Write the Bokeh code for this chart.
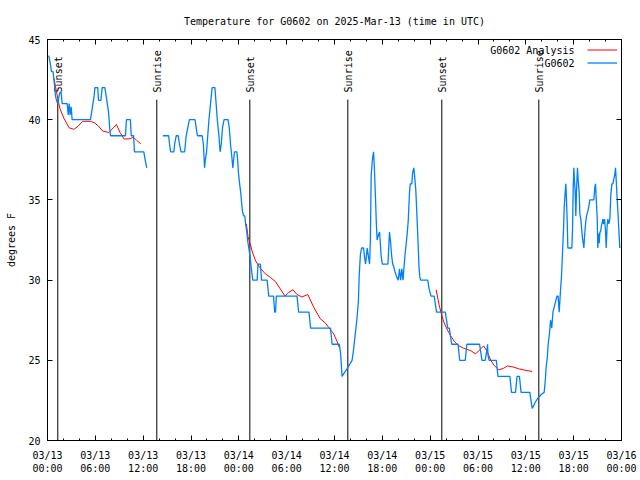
import math
import pandas as pd
from bokeh.plotting import figure
from bokeh.models import (Range1d, FixedTicker, DatetimeAxis, LinearAxis,
                          DatetimeTickFormatter, Legend, LegendItem, Label,
                          CustomJSTickFormatter)
from bokeh.embed import file_html
from bokeh.resources import INLINE
from bokeh.core.properties import value

NaN = float("nan")
START = pd.Timestamp("2025-03-13 00:00")
END = pd.Timestamp("2025-03-16 00:00")

TITLE = "Temperature for G0602 on 2025-Mar-13 (time in UTC)"
Y_LABEL = "degrees F"
OBS_NAME = "G0602"
ANA_NAME = "G0602 Analysis"

# observed temperature (hours after 03/13 00:00 UTC, deg F); NaN = gap
obs_hours = [
    0.15, 0.28, 0.38, 0.50, 0.70, 0.80, 0.92, 1.00, 1.13, 1.30, 1.42, 1.55, 1.71, 1.84,
    2.47, 2.60, 2.72, 2.84, 2.97, 3.09, 5.39, 5.55, 5.70, 5.85, 5.95, 6.30, 6.40, 6.70,
    6.85, 7.20, 7.35, 7.50, 7.65, 7.80, 7.90, 9.78, 9.90, 10.40, 10.50, 10.80, 10.90,
    12.08, 12.25, 12.45, NaN,
    14.47, 15.20, 15.30, 15.45, 15.85, 15.95, 16.15, 16.40, 16.55, 16.75, 17.20, 17.30,
    17.40, 17.60, 17.80, 18.50, 18.65, 18.80, 19.40, 19.55, 19.70, 19.80, 19.95, 20.10,
    20.25, 20.45, 20.65, 21.00, 21.15, 21.30, 21.50, 21.65, 21.80, 21.95, 22.15, 22.65,
    22.80, 22.95, 23.10, 23.25, 23.35, 23.45, 23.75, 23.85, 23.95, 24.10, 24.25, 24.35,
    24.45, 24.60, 24.75, 24.85, 25.00, 25.10, 25.25, 25.40, 25.55, 25.75, 26.30, 26.40,
    26.70, 26.85, 27.55, 27.75, 28.35, 28.50, 28.60, 28.70, 31.30, 31.50, 32.80, 33.00,
    35.50, 35.70, 36.60, 36.75, 36.95, 37.60, 38.20, 38.35, 38.55, 38.80, 39.00, 39.10,
    39.25, 39.40, 39.65, 39.75, 39.90, 40.00, 40.10, 40.25, 40.40, 40.50, 40.60, 40.75,
    40.90, 41.00, 41.15, 41.25, 41.35, 41.50, 41.65, 41.75, 41.85, 42.00, 42.70, 42.80,
    42.90, 43.05, 43.15, 43.30, 43.45, 43.60, 43.80, 44.00, 44.15, 44.30, 44.45, 44.60,
    44.70, 44.85, 45.00, 45.10, 45.25, 45.40, 45.50, 45.70, 45.80, 45.95, 46.05, 46.20,
    46.35, 46.50, 46.60, 46.70, 46.80, 47.70, 47.85, 48.10, 48.50, 48.65, 48.80, 49.90,
    50.05, 50.20, 50.40, 50.55, 50.70, 51.50, 51.60, 51.70, 52.40, 52.60, 54.20, 54.35,
    54.50, 54.90, 55.10, 55.20, 55.25, 55.40, 56.30, 56.40, 56.50, 58.00, 58.20, 58.70,
    58.90, 59.20, 59.40, 60.50, 60.65, 60.80, 61.20, 61.60, 62.00, 62.30, 62.45, 62.55,
    62.70, 62.80, 62.95, 63.10, 63.25, 63.40, 63.65, 63.90, 64.05, 64.18, 64.35, 64.48,
    64.60, 64.73, 64.81, 64.94, 65.02, 65.10, 65.19, 65.27, 65.77, 65.86, 65.94, 66.02,
    66.10, 66.19, 66.27, 66.36, 66.48, 66.57, 66.69, 66.78, 66.90, 66.98, 67.11, 67.23,
    67.28, 67.36, 67.49, 67.61, 67.78, 67.90, 68.03, 68.53, 68.66, 68.74, 68.82, 68.95,
    69.03, 69.12, 69.20, 69.29, 69.37, 69.49, 69.66, 69.74, 69.87, 69.99, 70.08, 70.20,
    70.29, 70.41, 70.54, 70.66, 70.79, 70.92, 71.04, 71.16, 71.25, 71.33, 71.46, 71.58,
    71.71, 71.79,
]
obs_temp = [
    44.0, 43.7, 43.4, 43.0, 43.0, 42.5, 42.0, 41.5, 41.2, 41.0, 41.4, 41.7, 41.7, 41.0,
    41.0, 40.3, 41.0, 40.3, 40.8, 40.0, 40.0, 40.5, 41.0, 41.5, 42.0, 42.0, 41.2, 41.2,
    42.0, 42.0, 41.5, 41.0, 40.5, 39.5, 39.0, 39.0, 40.0, 40.0, 39.0, 39.0, 38.0,
    38.0, 37.5, 37.0, NaN,
    39.0, 39.0, 38.5, 38.0, 38.0, 38.5, 39.0, 39.0, 38.5, 38.0, 38.0, 38.5,
    39.0, 39.5, 40.0, 40.0, 39.5, 39.0, 39.0, 38.5, 37.0, 37.5, 38.0, 39.0,
    40.0, 41.0, 42.0, 42.0, 41.0, 40.0, 39.0, 38.0, 38.5, 39.5, 40.0, 40.0,
    39.5, 38.5, 37.8, 37.0, 37.5, 38.0, 38.0, 37.5, 36.7, 36.0, 35.4, 34.8,
    34.3, 34.0, 34.0, 33.5, 33.0, 32.5, 32.0, 31.5, 30.8, 30.0, 30.0, 31.0,
    31.0, 30.0, 30.0, 29.0, 29.0, 28.0, 28.0, 29.0, 29.0, 28.0, 28.0, 27.0,
    27.0, 26.0, 26.0, 25.5, 24.0, 24.5, 25.0, 25.5, 26.4, 27.5, 28.7, 30.3,
    31.6, 32.0, 32.0, 31.5, 31.0, 31.5, 32.0, 31.5, 31.0, 32.5, 36.5, 37.5,
    38.0, 37.0, 35.0, 33.5, 32.5, 32.8, 33.0, 32.3, 31.5, 31.0, 31.0, 32.0,
    33.0, 32.3, 31.6, 31.0, 30.8, 30.5, 30.2, 30.0, 30.7, 30.0, 30.7, 30.0,
    30.7, 31.6, 32.3, 32.8, 33.7, 35.4, 36.0, 36.0, 36.7, 37.0, 36.5, 35.6,
    33.9, 32.1, 30.8, 30.2, 30.0, 30.0, 29.5, 29.0, 29.0, 28.5, 28.0, 28.0,
    27.5, 27.0, 27.0, 26.5, 26.0, 26.0, 25.5, 25.0, 25.0, 26.0, 26.0, 25.5,
    25.0, 25.0, 25.6, 26.0, 25.3, 25.0, 25.0, 24.5, 24.0, 24.0, 23.0, 23.0,
    24.0, 24.0, 23.0, 23.0, 22.5, 22.0, 22.4, 22.7, 22.9, 23.0, 23.8, 24.6,
    25.2, 26.0, 26.6, 27.5, 27.0, 28.0, 28.5, 29.0, 29.0, 28.0, 29.35, 30.3,
    31.7, 33.2, 34.5, 35.5, 36.0, 35.0, 33.7, 32.0, 32.0, 33.2, 35.7, 37.0,
    36.2, 35.5, 34.0, 35.6, 37.0, 36.2, 35.5, 34.1, 33.8, 33.3, 32.6, 32.2,
    32.0, 32.7, 33.5, 34.0, 34.3, 34.6, 35.0, 35.0, 35.8, 36.0, 35.2, 33.9,
    32.0, 32.9, 32.3, 33.0, 33.0, 33.4, 33.8, 33.5, 33.8, 33.1, 32.0, 33.4,
    33.8, 33.5, 33.8, 35.3, 36.0, 36.0, 36.3, 36.6, 37.0, 36.3, 35.0, 34.0,
    32.7, 32.0,
]

# analysis temperature (hours after 03/13 00:00 UTC, deg F); NaN = gap
ana_hours = [
    0.80, 1.30, 1.55, 2.05, 2.70, 3.30, 3.85, 4.40, 5.40, 5.90, 6.40, 6.90, 7.70, 8.65,
    9.10, 9.60, 10.20, 10.80, 11.20, 11.70, NaN,
    24.95, 25.15, 25.40, 25.70, 26.10, 26.60, 27.30, 28.00, 28.60, 29.20, 29.80, 30.30,
    30.80, 31.30, 31.90, 32.65, 33.40, 34.20, 34.90, 35.50, 35.90, 36.30, 36.60, NaN,
    48.75, 49.10, 49.40, 49.70, 50.10, 50.55, 51.00, 51.60, 52.20, 53.10, 53.70, 54.30,
    54.70, 55.20, 55.60, 56.00, 56.60, 57.20, 57.70, 58.50, 59.10, 59.75, 60.80,
]
ana_temp = [
    42.6, 41.3, 40.7, 40.1, 39.5, 39.4, 39.6, 39.9, 39.9, 39.8, 39.6, 39.3, 39.2, 39.7,
    39.2, 38.8, 38.8, 38.9, 38.7, 38.5, NaN,
    33.5, 32.7, 32.3, 31.75, 31.2, 30.8, 30.4, 30.15, 29.9, 29.45, 29.0, 29.25,
    29.4, 29.1, 28.95, 29.1, 28.3, 27.6, 27.3, 26.9, 26.65, 26.2, 25.8, NaN,
    29.4, 28.5, 27.9, 27.4, 26.95, 26.55, 26.2, 25.9, 25.75, 25.6, 25.4, 25.7,
    25.9, 25.5, 25.0, 24.7, 24.4, 24.5, 24.65, 24.57, 24.47, 24.4, 24.3,
]

# sunset / sunrise markers (hours after 03/13 00:00 UTC)
sun_hours = [1.29, 13.71, 25.38, 37.67, 49.46, 61.63]
sun_names = ["Sunset", "Sunrise", "Sunset", "Sunrise", "Sunset", "Sunrise"]

y_ticks = [20, 25, 30, 35, 40, 45]
Y_MIN, Y_MAX = 20, 45
MAJOR_STEP_H = 6
MINOR_STEP_H = 2

FONT = "DejaVu Sans Mono"
FS = "10px"
OBS_COLOR = "#0080ff"
ANA_COLOR = "#ff0000"

MS_H = 3600 * 1000.0
t0 = START.value / 1e6  # epoch ms
t1 = END.value / 1e6


def to_ms(hours):
    return [t0 + h * MS_H if not math.isnan(h) else NaN for h in hours]


total_h = int((t1 - t0) / MS_H)
major = [t0 + h * MS_H for h in range(0, total_h + 1, MAJOR_STEP_H)]
minor = [t0 + h * MS_H for h in range(0, total_h + 1, MINOR_STEP_H)]

p = figure(width=640, height=480, x_axis_type="datetime",
           output_backend="svg", toolbar_location=None,
           x_range=Range1d(t0, t1), y_range=Range1d(Y_MIN, Y_MAX),
           min_border_left=47, min_border_right=19,
           min_border_top=39, min_border_bottom=40)
p.background_fill_color = "white"
p.border_fill_color = "white"
p.outline_line_color = "black"
p.outline_line_width = 1
p.grid.visible = False

p.title.text = TITLE
p.title.align = "center"
p.title.text_font = FONT
p.title.text_font_size = FS
p.title.text_font_style = "normal"
p.title.text_color = "black"
p.title.standoff = 25

fmt = "%m/%d\n%H:%M"
xfmt = DatetimeTickFormatter(microseconds=fmt, milliseconds=fmt, seconds=fmt,
                             minsec=fmt, minutes=fmt, hourmin=fmt, hours=fmt,
                             days=fmt, months=fmt, years=fmt)
blank = CustomJSTickFormatter(code="return ''")


def style_axis(ax, labels=True):
    ax.axis_line_color = "black"
    ax.major_tick_line_color = "black"
    ax.minor_tick_line_color = "black"
    ax.major_tick_in = 5
    ax.major_tick_out = 0
    ax.minor_tick_in = 2
    ax.minor_tick_out = 0
    ax.major_label_text_font = FONT
    ax.major_label_text_color = "black"
    ax.major_label_text_font_size = FS
    if not labels:
        ax.formatter = blank
        ax.major_label_text_font_size = "0px"
        ax.major_label_standoff = 0


xa = p.xaxis[0]
xa.ticker = FixedTicker(ticks=major, minor_ticks=minor)
xa.formatter = xfmt
style_axis(xa)
xa.major_label_standoff = 9

ya = p.yaxis[0]
ya.ticker = FixedTicker(ticks=y_ticks)
style_axis(ya)
ya.minor_tick_line_color = None
ya.major_label_standoff = 7
ya.axis_label = Y_LABEL
ya.axis_label_text_font = FONT
ya.axis_label_text_font_size = FS
ya.axis_label_text_font_style = "normal"
ya.axis_label_text_color = "black"
ya.axis_label_standoff = 8

top = DatetimeAxis(ticker=FixedTicker(ticks=major, minor_ticks=minor))
style_axis(top, labels=False)
p.add_layout(top, "above")
right = LinearAxis(ticker=FixedTicker(ticks=y_ticks))
style_axis(right, labels=False)
right.minor_tick_line_color = None
p.add_layout(right, "right")

# sunrise / sunset lines and labels
sun_x = to_ms(sun_hours)
LINE_TOP = Y_MIN + 0.85 * (Y_MAX - Y_MIN)
p.segment(x0=sun_x, y0=[Y_MIN] * len(sun_x), x1=sun_x, y1=[LINE_TOP] * len(sun_x),
          line_color="black", line_width=1)
p.text(x=sun_x, y=[LINE_TOP + 0.45] * len(sun_x), text=sun_names,
       angle=math.pi / 2, text_align="left", text_baseline="middle",
       text_font=value(FONT), text_font_size=FS, text_color="black", x_offset=1)

r_ana = p.line(to_ms(ana_hours), ana_temp, line_color=ANA_COLOR, line_width=1)
r_obs = p.line(to_ms(obs_hours), obs_temp, line_color=OBS_COLOR, line_width=1.3)

legend = Legend(items=[LegendItem(label=" ", renderers=[r_ana]),
                       LegendItem(label=" ", renderers=[r_obs])],
                location="top_right", orientation="vertical",
                glyph_width=30, glyph_height=13, label_width=0, label_height=13,
                label_standoff=0, spacing=0, padding=4, margin=0,
                border_line_alpha=0, background_fill_alpha=0,
                label_text_font=FONT, label_text_font_size=FS)
p.add_layout(legend)

for i, name in enumerate([ANA_NAME, OBS_NAME]):
    p.add_layout(Label(x=527, y=390 - 13 * i, x_units="screen", y_units="screen",
                       text=name, text_align="right", text_baseline="middle",
                       text_font=FONT, text_font_size=FS, text_color="black"))

open("out.html", "w").write(file_html(p, INLINE))
